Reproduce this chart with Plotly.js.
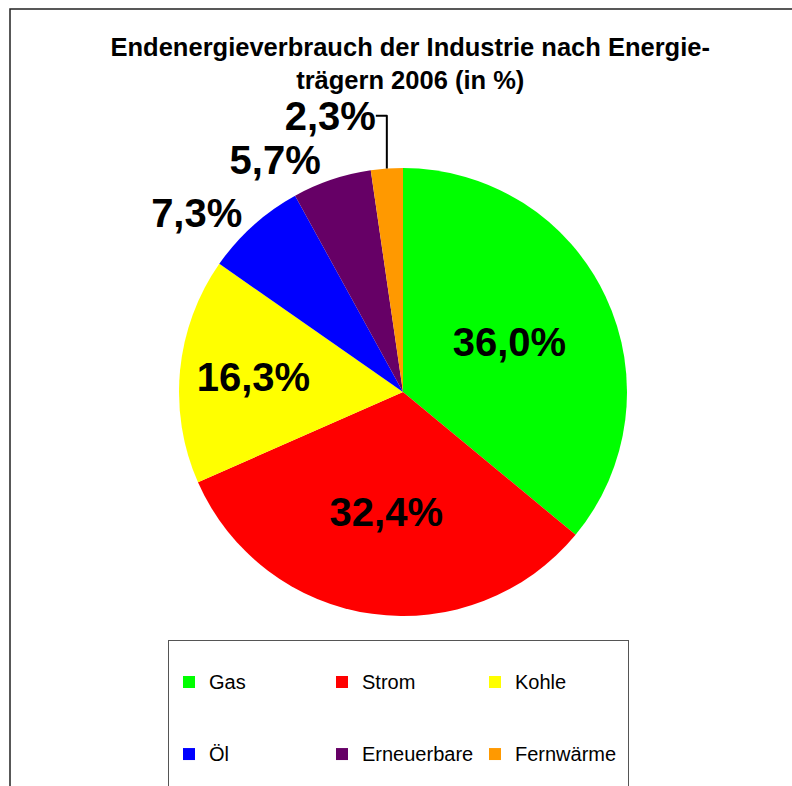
<!DOCTYPE html>
<html>
<head>
<meta charset="utf-8">
<script src="https://cdn.plot.ly/plotly-3.0.1.min.js"></script>
<style>html,body{margin:0;padding:0;background:#fff;}</style>
</head>
<body>
<div id="chart" style="width:792px;height:786px;"></div>
<script>
const categories = ['Gas', 'Strom', 'Kohle', 'Öl', 'Erneuerbare', 'Fernwärme'];
const values = [36.0, 32.4, 16.3, 7.3, 5.7, 2.3];
const colors = ['#00FF00', '#FF0000', '#FFFF00', '#0000FF', '#660066', '#FF9900'];
const textPositions = ['inside', 'inside', 'inside', 'outside', 'outside', 'outside'];
const titleLines = ['Endenergieverbrauch der Industrie nach Energie-', 'trägern 2006 (in %)'];

const FONT = 'Liberation Sans, Arial, Helvetica, sans-serif';

// legend labels: category name on the middle line of a three-line entry (for Excel-like row spacing)
const legendLabels = categories.map(c => ' <br><span style="font-size:20px">' + c + '</span><br> ');

const trace = {
  type: 'pie',
  labels: legendLabels,
  values: values,
  sort: false,
  direction: 'clockwise',
  rotation: 0,
  marker: {colors: colors, line: {width: 0}},
  texttemplate: '%{value:.1f}%',
  textposition: textPositions,
  insidetextorientation: 'horizontal',
  textfont: {family: FONT, size: 40, weight: 'bold', color: '#000'},
  outsidetextfont: {family: FONT, size: 40, weight: 'bold', color: '#000'},
  hoverinfo: 'none',
  showlegend: true
};

const L = 153, R = 139, T = 168, B = 170, W = 792, H = 786;
const gw = W - L - R, gh = H - T - B;
const px = x => (x - L) / gw;
const py = y => (H - B - y) / gh;

const layout = {
  width: W, height: H,
  margin: {l: L, r: R, t: T, b: B, autoexpand: false},
  paper_bgcolor: '#fff',
  plot_bgcolor: '#fff',
  separators: ', ',
  font: {family: FONT, color: '#000', size: 12},
  title: {
    text: '<b>' + titleLines.join('<br>') + '</b>',
    font: {family: FONT, size: 25.5, color: '#000'},
    x: 0.518, xanchor: 'center', xref: 'container',
    y: 0.929, yanchor: 'top', yref: 'container'
  },
  legend: {
    orientation: 'h',
    x: px(168), xanchor: 'left',
    y: py(640), yanchor: 'top',
    bgcolor: '#fff',
    bordercolor: '#555',
    borderwidth: 1,
    entrywidth: 108,
    traceorder: 'normal',
    font: {family: FONT, size: 17.7, color: '#000'}
  },
  shapes: [
    {type: 'rect', xref: 'paper', yref: 'paper', x0: px(10), x1: px(820), y0: py(9), y1: py(820),
     line: {color: '#222', width: 1.5}, fillcolor: 'rgba(0,0,0,0)', layer: 'below'}
  ]
};

Plotly.newPlot('chart', [trace], layout, {displayModeBar: false, staticPlot: true});
</script>
</body>
</html>
